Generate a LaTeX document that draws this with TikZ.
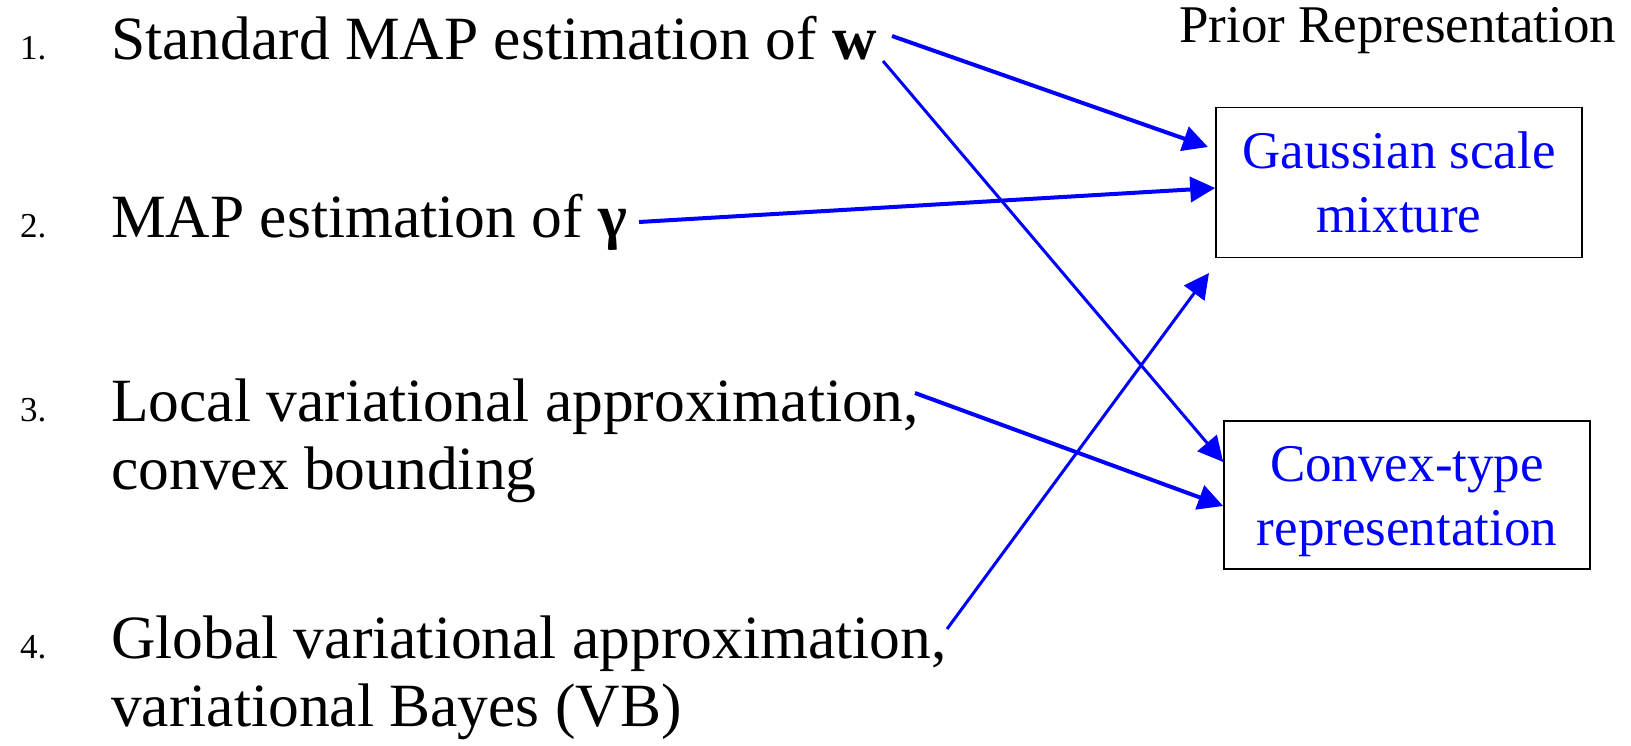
\documentclass[tikz,border=0pt]{standalone}
\usepackage{fontspec}
\setmainfont{Liberation Serif}
\usetikzlibrary{arrows.meta,calc}
\definecolor{pblue}{RGB}{0,0,255}
\begin{document}
\begin{tikzpicture}[x=1pt,y=-1pt,
  numtxt/.style={anchor=base west,inner sep=0pt,font=\fontsize{35}{40}\selectfont},
  itemtxt/.style={anchor=base west,inner sep=0pt,align=left,font=\fontsize{61.5}{68}\selectfont},
  priorbox/.style={draw=black,line width=1.6pt,minimum width=366pt,inner sep=0pt,align=center,text=pblue,
    text height=100pt,text depth=0pt,font=\fontsize{53}{64}\selectfont},
  conn/.style={draw=pblue,line width=4pt,-{Triangle[length=25pt,width=25pt]}},
  thinconn/.style={conn,line width=3pt}]
\useasboundingbox (0,0) rectangle (1631,745);
% numbers
\node[numtxt] (n1) at (20,59) {1.};
\node[numtxt] (n2) at (20,237) {2.};
\node[numtxt] (n3) at (20,421) {3.};
\node[numtxt] (n4) at (20,658) {4.};
% items (base anchor = last line baseline)
\node[itemtxt] (t1) at (111,59) {Standard MAP estimation of \textbf{w}};
\node[itemtxt] (t2) at (111,237) {MAP estimation of \textbf{γ}};
\node[itemtxt] (t3) at (111,489) {Local variational approximation,\\convex bounding};
\node[itemtxt] (t4) at (111,726) {Global variational approximation,\\variational Bayes (VB)};
% header
\node[anchor=base west,inner sep=0pt,font=\fontsize{53}{59}\selectfont] (hdr) at (1179,42) {Prior Representation};
% boxes
\node[priorbox,minimum height=150pt] (gsm) at (1399,182.5) {Gaussian scale\\mixture};
\node[priorbox,minimum height=148pt] (cvx) at (1407,495) {Convex-type\\representation};
% connector ends
\coordinate (s1) at (892,36);
\coordinate (s2) at (639,222);
\coordinate (s3) at (883,61);
\coordinate (s4) at (915,393);
\coordinate (s5) at (947,629);
\coordinate (e1) at (1208,147);
\coordinate (e2) at (gsm.west |- 0,188);
\coordinate (e3) at (cvx.west |- 0,462);
\coordinate (e4) at (cvx.west |- 0,506);
\coordinate (e5) at (1209,273);
\draw[conn] (s1) -- (e1);
\draw[conn] (s2) -- (e2);
\draw[thinconn] (s3) -- (e3);
\draw[conn] (s4) -- (e4);
\draw[thinconn] (s5) -- (e5);
\end{tikzpicture}
\end{document}
